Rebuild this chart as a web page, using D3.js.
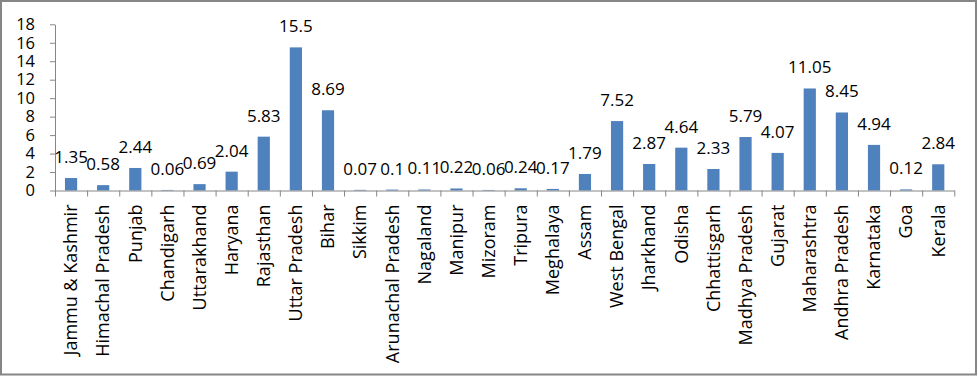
<!DOCTYPE html>
<html>
<head>
<meta charset="utf-8">
<script src="https://cdn.jsdelivr.net/npm/d3@7"></script>
<style>
	body { margin: 0; background: #fff; }
	text { font-family: "Open Sans", "Noto Sans", sans-serif; fill: #000; }
	.axis path, .axis line { stroke: #868686; }
</style>
</head>
<body>
<div id="containerBarChart"></div>
<script>

// states along the x axis
var states = ["Jammu & Kashmir", "Himachal Pradesh", "Punjab", "Chandigarh", "Uttarakhand",
	"Haryana", "Rajasthan", "Uttar Pradesh", "Bihar", "Sikkim", "Arunachal Pradesh",
	"Nagaland", "Manipur", "Mizoram", "Tripura", "Meghalaya", "Assam", "West Bengal",
	"Jharkhand", "Odisha", "Chhattisgarh", "Madhya Pradesh", "Gujarat", "Maharashtra",
	"Andhra Pradesh", "Karnataka", "Goa", "Kerala"];

// value per state
var values = [1.35, 0.58, 2.44, 0.06, 0.69, 2.04, 5.83, 15.5, 8.69, 0.07, 0.1,
	0.11, 0.22, 0.06, 0.24, 0.17, 1.79, 7.52, 2.87, 4.64, 2.33, 5.79, 4.07, 11.05,
	8.45, 4.94, 0.12, 2.84];

// y axis ticks
var yTicks = [0, 2, 4, 6, 8, 10, 12, 14, 16, 18];

function drawBarChart() {

	var width = 978;
	var height = 376;
	var plot = {left: 55, right: 954.3, top: 24.3, bottom: 190.5};

	var svg = d3.select("#containerBarChart")
		.append("svg")
		.attr("width", width)
		.attr("height", height);

	// chart border
	svg.append("rect")
		.attr("x", 1)
		.attr("y", 1)
		.attr("width", 975)
		.attr("height", 373.5)
		.attr("fill", "#fff")
		.attr("stroke", "#868686")
		.attr("stroke-width", 2);

	var scaleX = d3.scaleBand()
		.domain(states)
		.range([plot.left, plot.right])
		.paddingInner(0.62)
		.paddingOuter(0.31);

	// boundaries between categories for the tick marks
	var scaleEdge = d3.scaleLinear()
		.domain([0, states.length])
		.range([plot.left, plot.right]);

	var scaleY = d3.scaleLinear()
		.domain([0, 18])
		.range([plot.bottom, plot.top]);

	// bars
	svg.selectAll(".bar")
		.data(values)
		.enter()
		.append("rect")
		.attr("class", "bar")
		.attr("x", function(d, i) { return scaleX(states[i]); })
		.attr("y", function(d) { return scaleY(d); })
		.attr("width", scaleX.bandwidth())
		.attr("height", function(d) { return plot.bottom - scaleY(d); })
		.attr("fill", "#4F81BD");

	// y axis
	var yAxis = d3.axisLeft(scaleY)
		.tickValues(yTicks)
		.tickSize(5)
		.tickSizeOuter(0)
		.tickPadding(15);
	var gy = svg.append("g")
		.attr("class", "axis")
		.attr("transform", "translate(" + plot.left + ",0)")
		.call(yAxis);
	gy.selectAll("text")
		.style("font-size", "16.5px")
		.attr("fill", "#000");

	// x axis with ticks between categories
	var xAxis = d3.axisBottom(scaleEdge)
		.tickValues(d3.range(states.length + 1))
		.tickFormat("")
		.tickSize(6)
		.tickSizeOuter(0);
	svg.append("g")
		.attr("class", "axis")
		.attr("transform", "translate(0," + plot.bottom + ")")
		.call(xAxis);

	// category labels
	svg.selectAll(".catLabel")
		.data(states)
		.enter()
		.append("text")
		.attr("class", "catLabel")
		.attr("transform", function(d) {
			return "translate(" + (scaleX(d) + scaleX.bandwidth() / 2) + "," + (plot.bottom + 14) + ") rotate(-90)";
		})
		.attr("dy", "0.35em")
		.style("text-anchor", "end")
		.style("font-size", "18px")
		.text(function(d) { return d; });

	// value labels
	svg.selectAll(".valLabel")
		.data(values)
		.enter()
		.append("text")
		.attr("class", "valLabel")
		.attr("x", function(d, i) { return scaleX(states[i]) + scaleX.bandwidth() / 2; })
		.attr("y", function(d) { return scaleY(d) - 21; })
		.attr("dy", "0.35em")
		.style("text-anchor", "middle")
		.style("font-size", "17px")
		.text(function(d) { return String(d); });
};

drawBarChart();
</script>
</body>
</html>
